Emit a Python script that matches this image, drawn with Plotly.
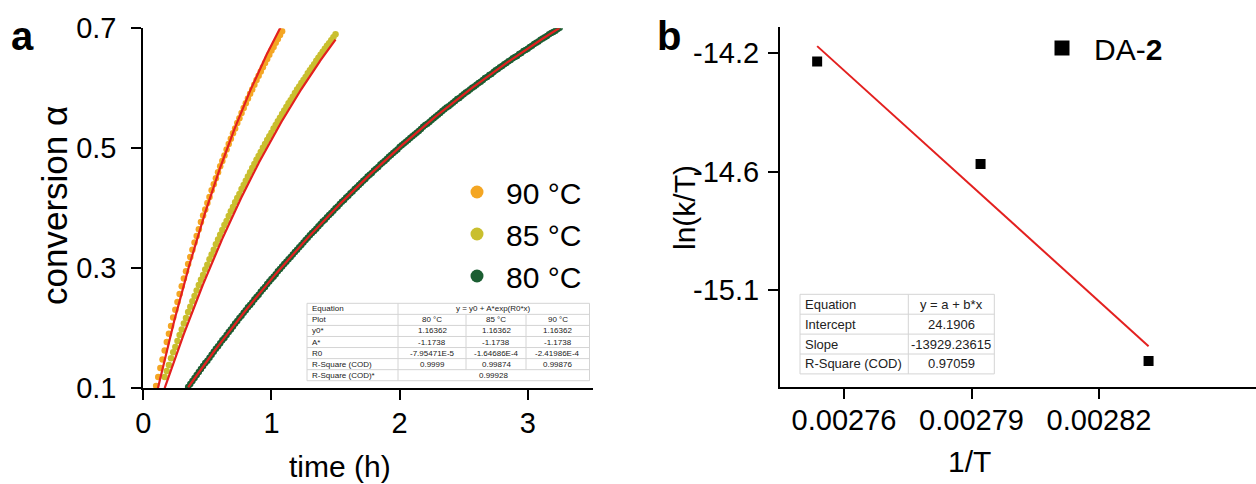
import numpy as np
import plotly.graph_objects as go

W, H = 1256, 484
FONT = "Liberation Sans, Arial, Helvetica, sans-serif"

# ---------------- panel a: conversion vs. time ----------------
# sampling times (min) and measured conversion
t90_min = [6, 7, 8, 9, 10, 11, 12, 13, 14, 15,
           16, 17, 18, 19, 20, 21, 22, 23, 24, 25,
           26, 27, 28, 29, 30, 31, 32, 33, 34, 35,
           36, 37, 38, 39, 40, 41, 42, 43, 44, 45,
           46, 47, 48, 49, 50, 51, 52, 53, 54, 55,
           56, 57, 58, 59, 60, 61, 62, 63, 64, 65]
alpha90 = [0.104, 0.119, 0.134, 0.148, 0.163, 0.177, 0.191, 0.204, 0.218, 0.231,
           0.244, 0.257, 0.270, 0.283, 0.295, 0.307, 0.319, 0.331, 0.343, 0.354,
           0.365, 0.377, 0.388, 0.398, 0.409, 0.419, 0.430, 0.440, 0.450, 0.460,
           0.470, 0.479, 0.488, 0.498, 0.507, 0.516, 0.525, 0.533, 0.542, 0.550,
           0.559, 0.567, 0.575, 0.583, 0.591, 0.598, 0.606, 0.614, 0.621, 0.628,
           0.635, 0.642, 0.649, 0.656, 0.663, 0.669, 0.676, 0.682, 0.689, 0.695]

t85_min = [10, 11, 12, 13, 14, 15, 16, 17, 18, 19,
           20, 21, 22, 23, 24, 25, 26, 27, 28, 29,
           30, 31, 32, 33, 34, 35, 36, 37, 38, 39,
           40, 41, 42, 43, 44, 45, 46, 47, 48, 49,
           50, 51, 52, 53, 54, 55, 56, 57, 58, 59,
           60, 61, 62, 63, 64, 65, 66, 67, 68, 69,
           70, 71, 72, 73, 74, 75, 76, 77, 78, 79,
           80, 81, 82, 83, 84, 85, 86, 87, 88, 89,
           90]
alpha85 = [0.119, 0.129, 0.139, 0.150, 0.160, 0.169, 0.179, 0.189, 0.198, 0.208,
           0.217, 0.227, 0.236, 0.245, 0.254, 0.263, 0.272, 0.281, 0.289, 0.298,
           0.306, 0.315, 0.323, 0.331, 0.340, 0.348, 0.356, 0.364, 0.372, 0.379,
           0.387, 0.395, 0.402, 0.410, 0.417, 0.424, 0.432, 0.439, 0.446, 0.453,
           0.460, 0.467, 0.474, 0.481, 0.487, 0.494, 0.501, 0.507, 0.514, 0.520,
           0.526, 0.533, 0.539, 0.545, 0.551, 0.557, 0.563, 0.569, 0.575, 0.580,
           0.586, 0.592, 0.598, 0.603, 0.609, 0.614, 0.619, 0.625, 0.630, 0.635,
           0.640, 0.646, 0.651, 0.656, 0.661, 0.666, 0.671, 0.675, 0.680, 0.685,
           0.690]

t80_min = [21, 22, 23, 24, 25, 26, 27, 28, 29, 30,
           31, 32, 33, 34, 35, 36, 37, 38, 39, 40,
           41, 42, 43, 44, 45, 46, 47, 48, 49, 50,
           51, 52, 53, 54, 55, 56, 57, 58, 59, 60,
           61, 62, 63, 64, 65, 66, 67, 68, 69, 70,
           71, 72, 73, 74, 75, 76, 77, 78, 79, 80,
           81, 82, 83, 84, 85, 86, 87, 88, 89, 90,
           91, 92, 93, 94, 95, 96, 97, 98, 99, 100,
           101, 102, 103, 104, 105, 106, 107, 108, 109, 110,
           111, 112, 113, 114, 115, 116, 117, 118, 119, 120,
           121, 122, 123, 124, 125, 126, 127, 128, 129, 130,
           131, 132, 133, 134, 135, 136, 137, 138, 139, 140,
           141, 142, 143, 144, 145, 146, 147, 148, 149, 150,
           151, 152, 153, 154, 155, 156, 157, 158, 159, 160,
           161, 162, 163, 164, 165, 166, 167, 168, 169, 170,
           171, 172, 173, 174, 175, 176, 177, 178, 179, 180,
           181, 182, 183, 184, 185, 186, 187, 188, 189, 190,
           191, 192, 193, 194, 195]
alpha80 = [0.102, 0.107, 0.112, 0.117, 0.122, 0.127, 0.132, 0.137, 0.142, 0.146,
           0.151, 0.156, 0.161, 0.166, 0.170, 0.175, 0.180, 0.184, 0.189, 0.194,
           0.198, 0.203, 0.208, 0.212, 0.217, 0.221, 0.226, 0.230, 0.235, 0.239,
           0.243, 0.248, 0.252, 0.256, 0.261, 0.265, 0.269, 0.274, 0.278, 0.282,
           0.286, 0.290, 0.295, 0.299, 0.303, 0.307, 0.311, 0.315, 0.319, 0.323,
           0.327, 0.331, 0.335, 0.339, 0.343, 0.347, 0.351, 0.355, 0.359, 0.362,
           0.366, 0.370, 0.374, 0.378, 0.381, 0.385, 0.389, 0.392, 0.396, 0.400,
           0.403, 0.407, 0.411, 0.414, 0.418, 0.421, 0.425, 0.428, 0.432, 0.435,
           0.439, 0.442, 0.446, 0.449, 0.453, 0.456, 0.459, 0.463, 0.466, 0.469,
           0.473, 0.476, 0.479, 0.482, 0.486, 0.489, 0.492, 0.495, 0.498, 0.502,
           0.505, 0.508, 0.511, 0.514, 0.517, 0.520, 0.523, 0.526, 0.529, 0.532,
           0.536, 0.539, 0.541, 0.544, 0.547, 0.550, 0.553, 0.556, 0.559, 0.562,
           0.565, 0.568, 0.570, 0.573, 0.576, 0.579, 0.582, 0.584, 0.587, 0.590,
           0.593, 0.595, 0.598, 0.601, 0.603, 0.606, 0.609, 0.611, 0.614, 0.617,
           0.619, 0.622, 0.624, 0.627, 0.630, 0.632, 0.635, 0.637, 0.640, 0.642,
           0.645, 0.647, 0.650, 0.652, 0.654, 0.657, 0.659, 0.662, 0.664, 0.666,
           0.669, 0.671, 0.674, 0.676, 0.678, 0.681, 0.683, 0.685, 0.687, 0.690,
           0.692, 0.694, 0.696, 0.699, 0.701]

series_labels = ["90 °C", "85 °C", "80 °C"]
series_colors = ["#F4A623", "#C9BF2E", "#1B5E32"]

# first-order fit  y = y0 + A*exp(R0*x), x in seconds
fit_y0 = 1.16362
fit_A = -1.1738
fit_R0 = [-2.41986e-4, -1.64686e-4, -7.95471e-5]     # 90, 85, 80 °C
fit_r2 = ["0.99876", "0.99874", "0.9999"]
fit_r2_global = "0.99928"

x_ticks_a = [0, 1, 2, 3]
y_ticks_a = [0.1, 0.3, 0.5, 0.7]

# ---------------- panel b: Eyring plot ----------------
inv_T = [0.00275368, 0.00279213, 0.00283166]
ln_kT = [-14.22145, -14.59243, -15.30606]
lin_intercept = 24.1906
lin_slope = -13929.23615
lin_r2 = "0.97059"

x_ticks_b = [0.00276, 0.00279, 0.00282]
y_ticks_b = [-14.19, -14.62, -15.05]


def px(x):
    return x / W


def py(y):
    return 1 - y / H


fig = go.Figure()

times = [t90_min, t85_min, t80_min]
alphas = [alpha90, alpha85, alpha80]

# measured points
for tm, al, col in zip(times, alphas, series_colors):
    fig.add_trace(go.Scatter(
        x=[m / 60 for m in tm], y=al, mode="markers",
        marker=dict(color=col, size=6.5, line=dict(width=0)),
        showlegend=False, xaxis="x", yaxis="y", hoverinfo="skip"))

# fitted curves (drawn over the data)
for tm, r0 in zip(times, fit_R0):
    th = np.linspace(tm[0] / 60, tm[-1] / 60, 300)
    fig.add_trace(go.Scatter(
        x=th, y=fit_y0 + fit_A * np.exp(r0 * th * 3600), mode="lines",
        line=dict(color="#E3201F", width=2.2),
        showlegend=False, xaxis="x", yaxis="y", hoverinfo="skip"))

# legend entries for panel a
for lab, col in zip(series_labels, series_colors):
    fig.add_trace(go.Scatter(
        x=[None], y=[None], mode="markers", name=lab,
        marker=dict(color=col, size=13), xaxis="x", yaxis="y",
        legend="legend", showlegend=True))

# panel b
fig.add_trace(go.Scatter(
    x=inv_T, y=ln_kT, mode="markers",
    marker=dict(symbol="square", color="black", size=10),
    showlegend=False, xaxis="x2", yaxis="y2"))
lx = [min(inv_T), max(inv_T)]
fig.add_trace(go.Scatter(
    x=lx, y=[lin_intercept + lin_slope * v for v in lx], mode="lines",
    line=dict(color="#E3201F", width=2), showlegend=False,
    xaxis="x2", yaxis="y2"))
fig.add_trace(go.Scatter(
    x=[None], y=[None], mode="markers", name="DA-<b>2</b>",
    marker=dict(symbol="square", color="black", size=15),
    xaxis="x2", yaxis="y2", legend="legend2", showlegend=True))

axis_common = dict(
    showline=True, linecolor="black", linewidth=2, ticks="outside",
    ticklen=10, tickwidth=2, tickcolor="black", showgrid=False,
    zeroline=False, automargin=False,
    tickfont=dict(family=FONT, size=29, color="black"))

fig.update_layout(
    width=W, height=H,
    margin=dict(l=0, r=0, t=0, b=0, pad=0, autoexpand=False),
    paper_bgcolor="white", plot_bgcolor="white",
    font=dict(family=FONT, color="black"),
    xaxis=dict(domain=[px(143.3), px(592.7)], range=[0, 3.507], anchor="y",
               tickvals=x_ticks_a, ticklabelstandoff=-2, **axis_common),
    yaxis=dict(domain=[py(388.3), py(28.3)], range=[0.1, 0.7], anchor="x",
               tickvals=y_ticks_a, ticktext=[f"{v:.1f}" for v in y_ticks_a],
               ticklabelstandoff=9, **axis_common),
    xaxis2=dict(domain=[px(780), 1.0], range=[0.00274494, 0.00285694],
                anchor="y2", tickvals=x_ticks_b,
                ticktext=[f"{v:.5f}" for v in x_ticks_b],
                ticklabelstandoff=-4, **axis_common),
    yaxis2=dict(domain=[py(387.3), py(26.7)], range=[-15.4013, -14.0957],
                anchor="x2", tickvals=y_ticks_b,
                ticktext=[f"{v:.1f}" for v in y_ticks_b],
                ticklabelstandoff=3, **axis_common),
    legend=dict(x=px(448), y=py(166), xanchor="left", yanchor="top",
                font=dict(family=FONT, size=30, color="black"),
                bgcolor="rgba(0,0,0,0)", itemwidth=48, traceorder="normal"),
    legend2=dict(x=px(1030), y=py(22), xanchor="left", yanchor="top",
                 font=dict(family=FONT, size=30, color="black"),
                 bgcolor="rgba(0,0,0,0)", itemwidth=54),
)

annotations = []
shapes = []


def label(text, x, y, size=30, angle=0, bold=False):
    annotations.append(dict(
        text=f"<b>{text}</b>" if bold else text, x=px(x), y=py(y),
        xref="paper", yref="paper", showarrow=False, textangle=angle,
        xanchor="center", yanchor="middle",
        font=dict(family=FONT, size=size, color="black")))


label("a", 22, 36, size=40, bold=True)
label("b", 669, 36, size=40, bold=True)
label("conversion α", 54, 206, size=35, angle=-90)
label("time (h)", 340, 466)
label("ln(k/T)", 684, 208, angle=-90)
label("1/T", 969, 461)


def table(rows, cols, top, rh, fsize, spans, grid="#d4d4d4"):
    """rows: list of cell lists; spans: set of row indices whose value
    cell spans all value columns."""
    bottom = top + rh * len(rows)
    shapes.append(dict(type="rect", xref="paper", yref="paper",
                       x0=px(cols[0]), x1=px(cols[-1]), y0=py(bottom),
                       y1=py(top), line=dict(color=grid, width=1),
                       fillcolor="white", layer="above"))
    for i in range(1, len(rows)):
        y = top + rh * i
        shapes.append(dict(type="line", xref="paper", yref="paper",
                           x0=px(cols[0]), x1=px(cols[-1]), y0=py(y), y1=py(y),
                           line=dict(color=grid, width=1)))
    shapes.append(dict(type="line", xref="paper", yref="paper",
                       x0=px(cols[1]), x1=px(cols[1]), y0=py(top),
                       y1=py(bottom), line=dict(color=grid, width=1)))
    for c in cols[2:-1]:
        for i in range(len(rows)):
            if i in spans:
                continue
            shapes.append(dict(type="line", xref="paper", yref="paper",
                               x0=px(c), x1=px(c), y0=py(top + rh * i),
                               y1=py(top + rh * (i + 1)),
                               line=dict(color=grid, width=1)))
    for i, row in enumerate(rows):
        yc = top + rh * (i + 0.5)
        annotations.append(dict(
            text=row[0], x=px(cols[0] + 3), y=py(yc), xref="paper",
            yref="paper", showarrow=False, xanchor="left", yanchor="middle",
            font=dict(family=FONT, size=fsize, color="#222")))
        if i in spans:
            centers = [(cols[1] + cols[-1]) / 2]
        else:
            centers = [(cols[j] + cols[j + 1]) / 2 for j in range(1, len(cols) - 1)]
        for txt, xc in zip(row[1:], centers):
            annotations.append(dict(
                text=txt, x=px(xc), y=py(yc), xref="paper", yref="paper",
                showarrow=False, xanchor="center", yanchor="middle",
                font=dict(family=FONT, size=fsize, color="#222")))


def sci(v):
    m, e = f"{v:.5E}".split("E")
    return f"{m}E{int(e)}"


order = [2, 1, 0]  # table columns: 80, 85, 90 °C
rows_a = [
    ["Equation", "y = y0 + A*exp(R0*x)"],
    ["Plot"] + [series_labels[k] for k in order],
    ["y0*"] + [f"{fit_y0:.5f}"] * 3,
    ["A*"] + [f"{fit_A:g}"] * 3,
    ["R0"] + [sci(fit_R0[k]) for k in order],
    ["R-Square (COD)"] + [fit_r2[k] for k in order],
    ["R-Square (COD)*", fit_r2_global],
]
table(rows_a, [307, 398, 466, 526, 589.5], 303.3, 11.06, 8, {0, 6})

rows_b = [
    ["Equation", "y = a + b*x"],
    ["Intercept", f"{lin_intercept:g}"],
    ["Slope", f"{lin_slope:.5f}"],
    ["R-Square (COD)", lin_r2],
]
table(rows_b, [800, 908.3, 994.3], 294.3, 19.9, 13, set())

fig.update_layout(annotations=annotations, shapes=shapes)
fig.write_html("out.html")
